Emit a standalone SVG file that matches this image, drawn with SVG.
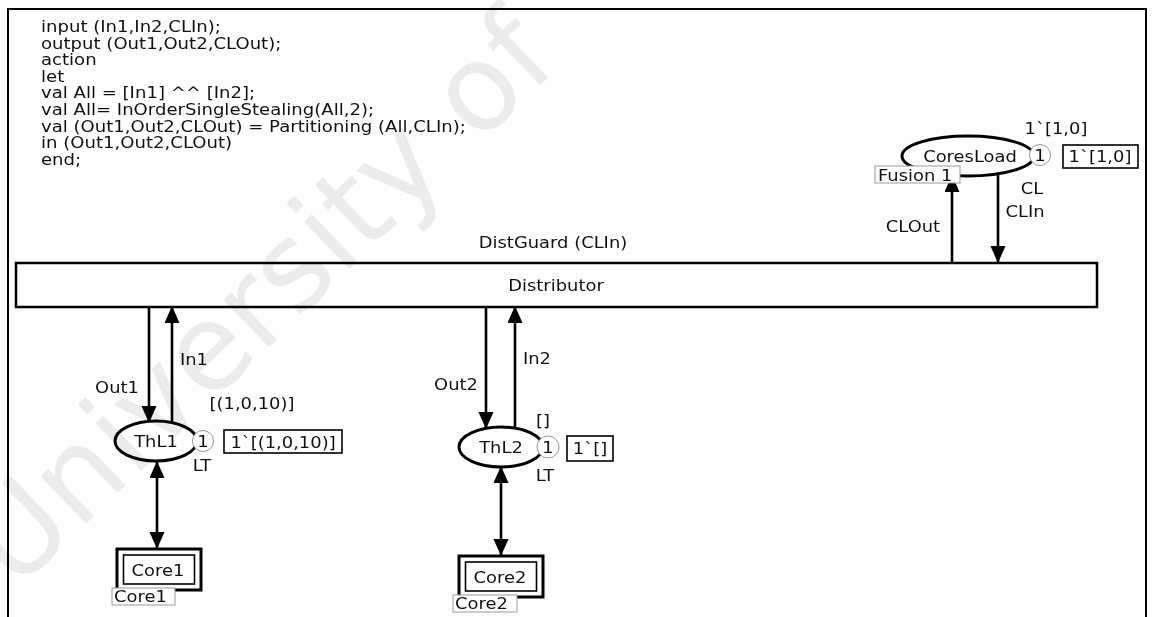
<svg xmlns="http://www.w3.org/2000/svg" width="1153" height="617" viewBox="0 0 1153 617">
<style>
text{font-family:"DejaVu Sans","Verdana",sans-serif;font-size:16px;fill:#111}
.c{text-anchor:middle}
.place{fill:#fff;stroke:#000;stroke-width:3}
.tok{fill:#fff;stroke:#999;stroke-width:1}
.mark{fill:#fff;stroke:#000;stroke-width:1.6}
.tag{fill:#fff;stroke:#999;stroke-width:1}
.arc{stroke:#000;stroke-width:2.6;fill:none;marker-end:url(#ah)}
.both{marker-start:url(#ah)}
.wm{font-family:"DejaVu Sans",sans-serif;font-size:120px;fill:#ececec;mix-blend-mode:multiply}
</style>
<defs>
<marker id="ah" markerUnits="userSpaceOnUse" markerWidth="18" markerHeight="16" refX="16" refY="7.5" orient="auto-start-reverse"><path d="M0,0 L17,7.5 L0,15 z" fill="#000"/></marker>
</defs>
<rect width="1153" height="617" fill="#fff"/>
<path d="M8,617 V9 H1146 V617" fill="none" stroke="#000" stroke-width="2"/>
<g id="code" transform="translate(41,0) scale(1.13,1)">
<text x="0" y="32.5">input (In1,In2,CLIn);</text>
<text x="0" y="49">output (Out1,Out2,CLOut);</text>
<text x="0" y="65.5">action</text>
<text x="0" y="82">let</text>
<text x="0" y="98.5">val All = [In1] ^^ [In2];</text>
<text x="0" y="115.5">val All= InOrderSingleStealing(All,2);</text>
<text x="0" y="132">val (Out1,Out2,CLOut) = Partitioning (All,CLIn);</text>
<text x="0" y="148.5">in (Out1,Out2,CLOut)</text>
<text x="0" y="165.5">end;</text>
</g>
<g id="connectors">
<line class="arc" x1="149" y1="307" x2="149" y2="422"/>
<line class="arc" x1="172" y1="424" x2="172" y2="307"/>
<line class="arc" x1="486" y1="307" x2="486" y2="428"/>
<line class="arc" x1="515" y1="429" x2="515" y2="307"/>
<line class="arc" x1="952" y1="262" x2="952" y2="176"/>
<line class="arc" x1="998" y1="174" x2="998" y2="262"/>
<line class="arc both" x1="157" y1="462" x2="157" y2="548"/>
<line class="arc both" x1="501" y1="467" x2="501" y2="555"/>
<text class="c" transform="translate(117,392.5) scale(1.12,1)">Out1</text>
<text class="c" transform="translate(194,364.5) scale(1.12,1)">In1</text>
<text class="c" transform="translate(456,389.5) scale(1.12,1)">Out2</text>
<text class="c" transform="translate(537,363.5) scale(1.12,1)">In2</text>
<text class="c" transform="translate(913,231.5) scale(1.12,1)">CLOut</text>
<text class="c" transform="translate(1025,216.5) scale(1.12,1)">CLIn</text>
</g>
<g id="Distributor">
<rect x="16" y="263" width="1081" height="44" fill="#fff" stroke="#000" stroke-width="2.5"/>
<text class="c" transform="translate(556,290.5) scale(1.12,1)">Distributor</text>
<text class="c" transform="translate(553,247.5) scale(1.12,1)">DistGuard (CLIn)</text>
</g>
<g id="CoresLoad">
<ellipse class="place" cx="968" cy="156" rx="66" ry="20"/>
<text class="c" transform="translate(970,161.5) scale(1.12,1)">CoresLoad</text>
<circle class="tok" cx="1040" cy="155" r="10.5"/>
<text class="c" transform="translate(1040,160.5) scale(1.12,1)">1</text>
<rect class="mark" x="1063" y="145" width="75" height="23"/>
<text class="c" transform="translate(1100,161.5) scale(1.12,1)">1`[1,0]</text>
<text class="c" transform="translate(1056,133.5) scale(1.12,1)">1`[1,0]</text>
<text class="c" transform="translate(1032,193.5) scale(1.12,1)">CL</text>
<rect class="tag" x="875" y="166" width="85" height="17"/>
<text transform="translate(878,180.5) scale(1.12,1)">Fusion 1</text>
</g>
<g id="ThL1">
<ellipse class="place" cx="156" cy="441" rx="41" ry="20"/>
<text class="c" transform="translate(156,446.5) scale(1.12,1)">ThL1</text>
<circle class="tok" cx="203" cy="441" r="10.5"/>
<text class="c" transform="translate(203,446.5) scale(1.12,1)">1</text>
<rect class="mark" x="224" y="430" width="118" height="23"/>
<text class="c" transform="translate(283,447.5) scale(1.12,1)">1`[(1,0,10)]</text>
<text class="c" transform="translate(252,408.5) scale(1.12,1)">[(1,0,10)]</text>
<text class="c" transform="translate(202,470.5) scale(1.12,1)">LT</text>
</g>
<g id="ThL2">
<ellipse class="place" cx="501" cy="447" rx="42" ry="20"/>
<text class="c" transform="translate(501,452.5) scale(1.12,1)">ThL2</text>
<circle class="tok" cx="548" cy="447" r="11"/>
<text class="c" transform="translate(548,452.5) scale(1.12,1)">1</text>
<rect class="mark" x="567" y="436" width="46" height="25"/>
<text class="c" transform="translate(590,453.5) scale(1.12,1)">1`[]</text>
<text class="c" transform="translate(543,425.5) scale(1.12,1)">[]</text>
<text class="c" transform="translate(545,480.5) scale(1.12,1)">LT</text>
</g>
<g id="Core1">
<rect x="117" y="549" width="84" height="41" fill="#fff" stroke="#000" stroke-width="3"/>
<rect x="123.5" y="555" width="71" height="29" fill="none" stroke="#000" stroke-width="1.6"/>
<text class="c" transform="translate(158,575.5) scale(1.12,1)">Core1</text>
<rect class="tag" x="112" y="588" width="63" height="17"/>
<text transform="translate(114,602) scale(1.12,1)">Core1</text>
</g>
<g id="Core2">
<rect x="459" y="556" width="84" height="41" fill="#fff" stroke="#000" stroke-width="3"/>
<rect x="465.5" y="562" width="71" height="29" fill="none" stroke="#000" stroke-width="1.6"/>
<text class="c" transform="translate(500,582.5) scale(1.12,1)">Core2</text>
<rect class="tag" x="453" y="595" width="64" height="17"/>
<text transform="translate(455,609) scale(1.12,1)">Core2</text>
</g>
<text class="wm" transform="translate(15,592) rotate(-44)">University of</text>
</svg>
